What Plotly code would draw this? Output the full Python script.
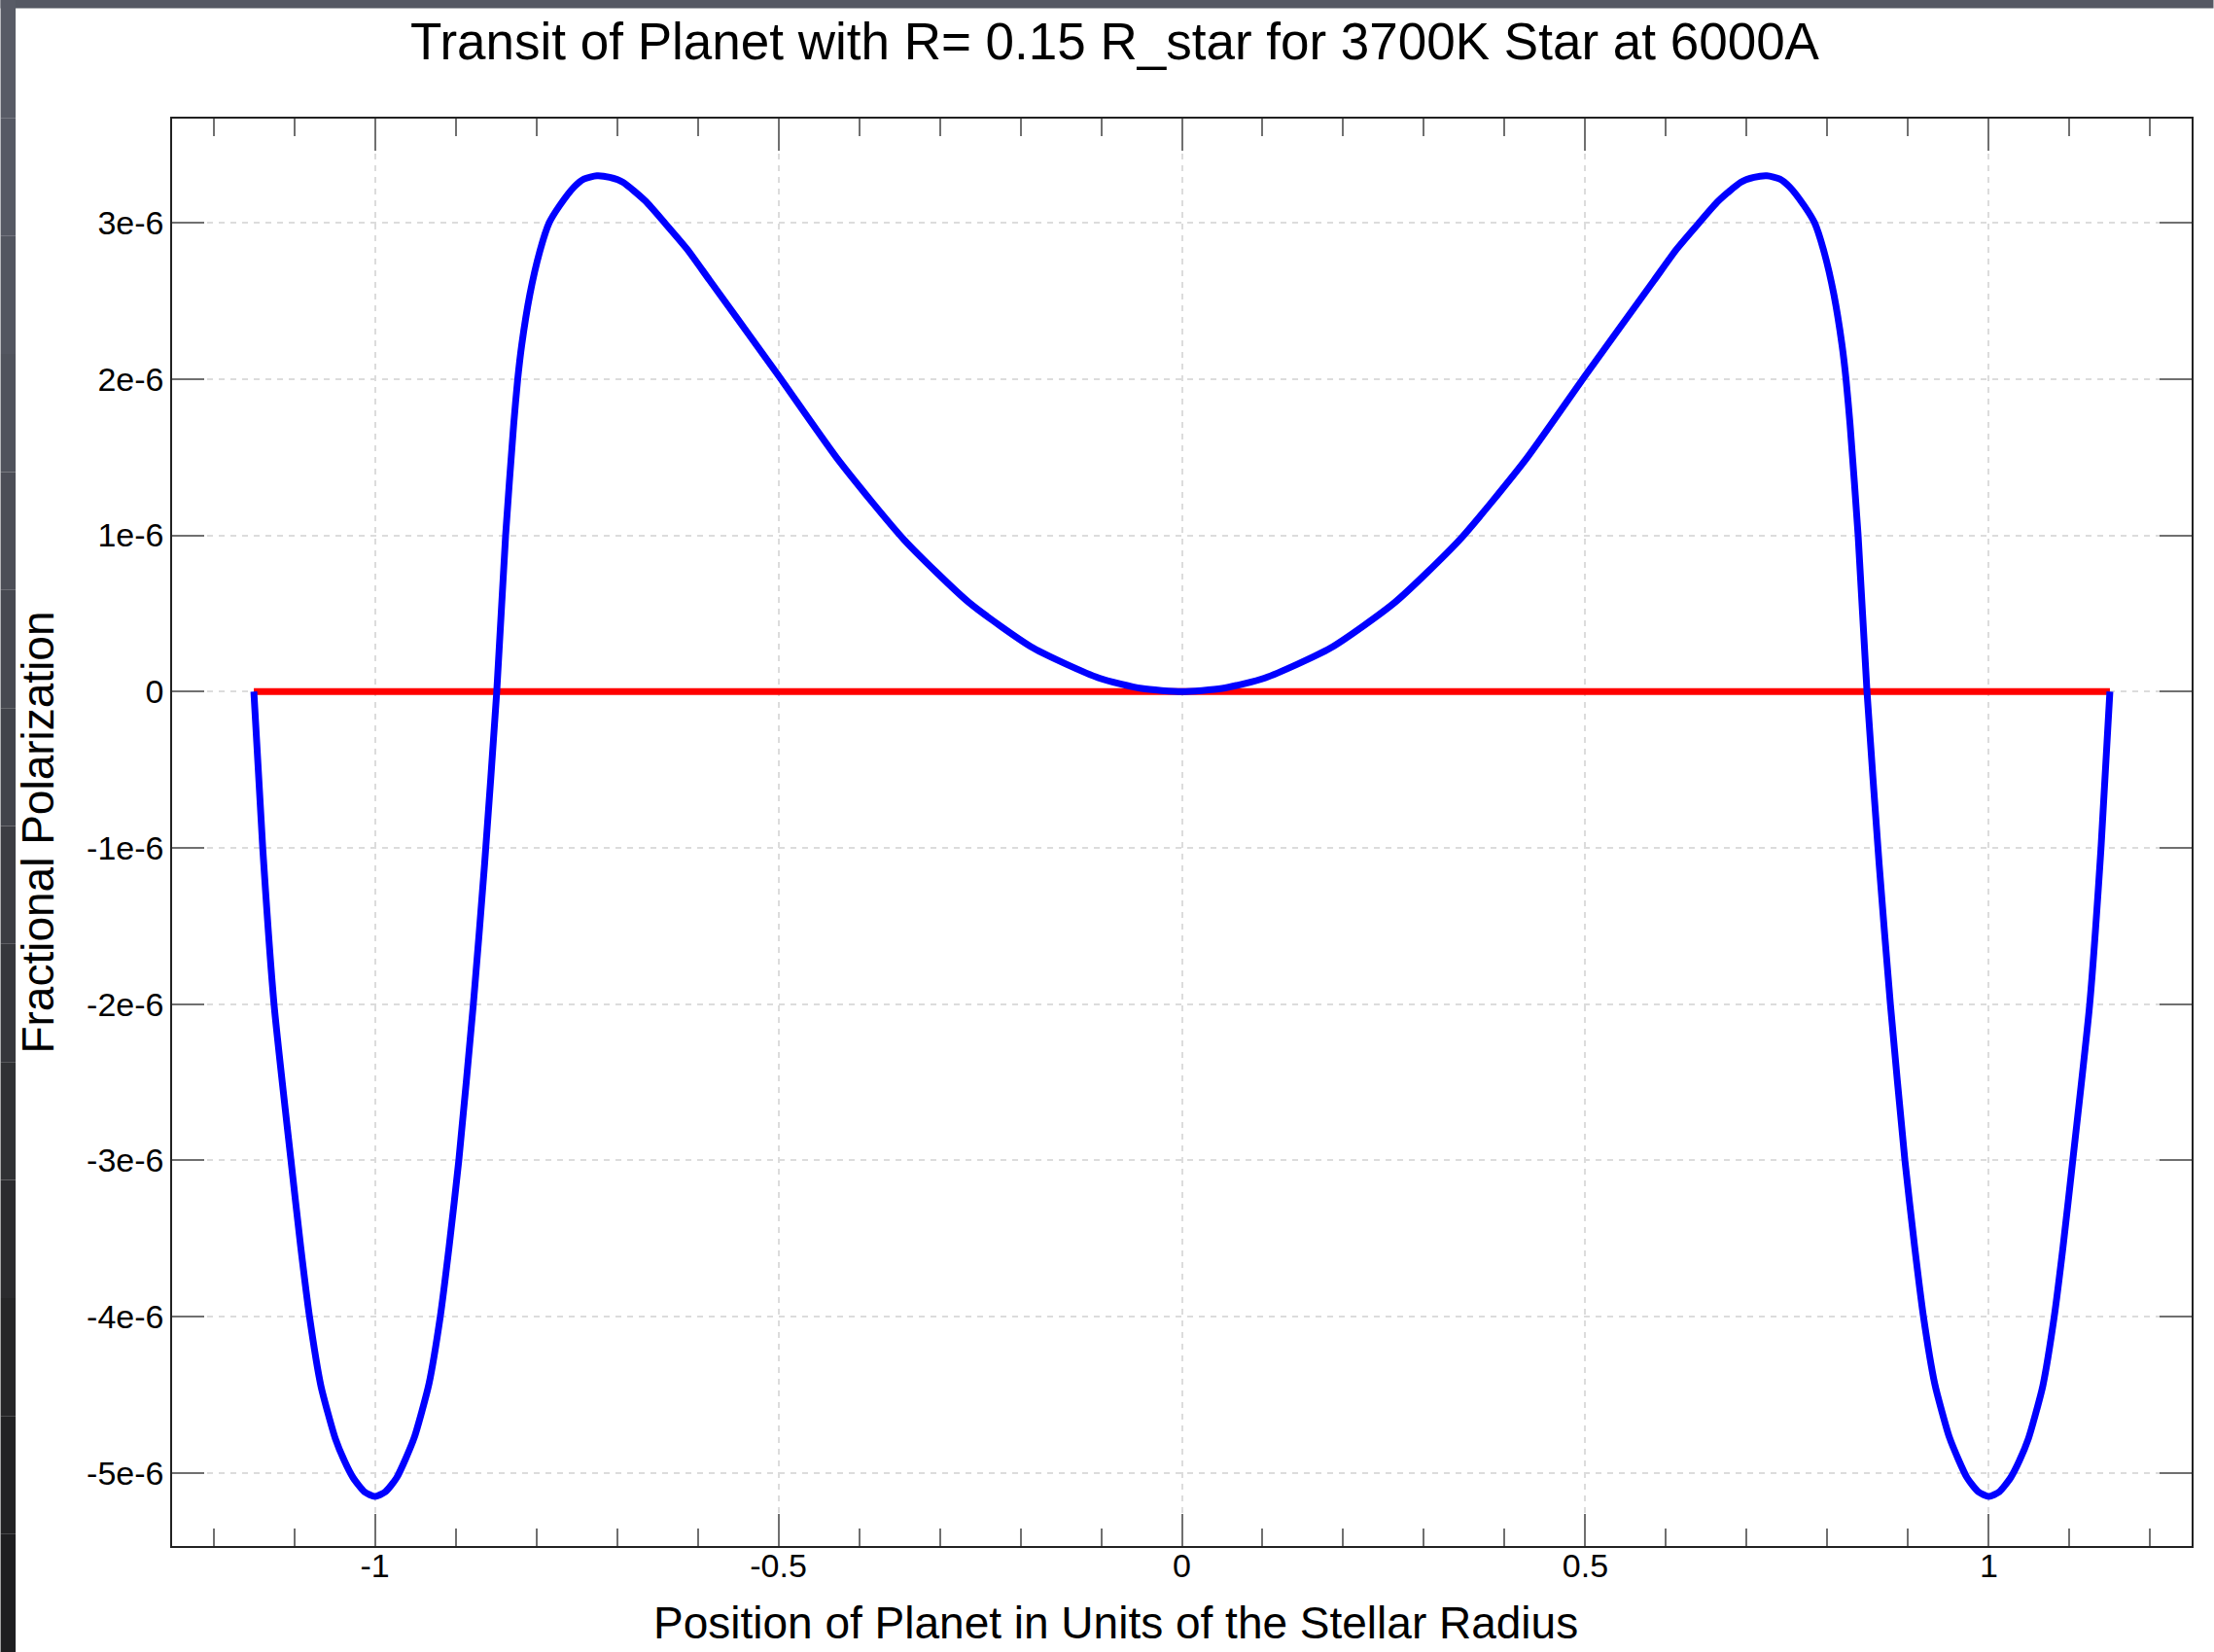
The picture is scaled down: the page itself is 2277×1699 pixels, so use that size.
import plotly.graph_objects as go

# ---- data (x in stellar radii, polarization in units of 1e-6) ----
x_pos = [-1.150, -1.139, -1.125, -1.104, -1.092, -1.081, -1.067, -1.058, -1.049, -1.038,
         -1.027, -1.013, -1.000,
         -0.987, -0.973, -0.962, -0.951, -0.942, -0.933, -0.919, -0.908, -0.896, -0.878,
         -0.864, -0.849, -0.838,
         -0.828, -0.823, -0.818, -0.808, -0.796, -0.784, -0.771, -0.753, -0.741,
         -0.725, -0.709, -0.693, -0.665, -0.641, -0.613, -0.585, -0.501, -0.424, -0.344,
         -0.264, -0.184, -0.103, -0.050, 0.000,
         0.050, 0.103, 0.184, 0.264, 0.344, 0.424, 0.501, 0.585, 0.613, 0.641,
         0.665, 0.693, 0.709, 0.725, 0.741, 0.753, 0.771, 0.784, 0.796, 0.808,
         0.818, 0.823, 0.828, 0.838, 0.849, 0.864, 0.878, 0.896, 0.908, 0.919,
         0.933, 0.942, 0.951, 0.962, 0.973, 0.987, 1.000,
         1.013, 1.027, 1.038, 1.049, 1.058, 1.067, 1.081, 1.092, 1.104, 1.125,
         1.139, 1.150]
pol_micro = [0.00, -1.00, -2.00, -3.00, -3.55, -4.00, -4.44, -4.62, -4.78, -4.92,
             -5.03, -5.12, -5.15,
             -5.12, -5.03, -4.91, -4.77, -4.61, -4.43, -4.00, -3.55, -3.00, -2.00,
             -1.10, 0.00, 1.00,
             1.71, 2.00, 2.22, 2.54, 2.81, 3.00, 3.11, 3.23, 3.28,
             3.30, 3.29, 3.26, 3.14, 3.00, 2.83, 2.63, 2.03, 1.47, 0.97,
             0.571, 0.278, 0.087, 0.02, 0.00,
             0.02, 0.087, 0.278, 0.571, 0.97, 1.47, 2.03, 2.63, 2.83, 3.00,
             3.14, 3.26, 3.29, 3.30, 3.28, 3.23, 3.11, 3.00, 2.81, 2.54,
             2.22, 2.00, 1.71, 1.00, 0.00, -1.10, -2.00, -3.00, -3.55, -4.00,
             -4.43, -4.61, -4.77, -4.91, -5.03, -5.12, -5.15,
             -5.12, -5.03, -4.92, -4.78, -4.62, -4.44, -4.00, -3.55, -3.00, -2.00,
             -1.00, 0.00]
pol = [v * 1e-6 for v in pol_micro]

ref_x = [-1.15, 1.15]
ref_y = [0.0, 0.0]

x_tickvals = [-1, -0.5, 0, 0.5, 1]
x_ticktext = ["-1", "-0.5", "0", "0.5", "1"]
y_tickvals = [3e-6, 2e-6, 1e-6, 0, -1e-6, -2e-6, -3e-6, -4e-6, -5e-6]
y_ticktext = ["3e-6", "2e-6", "1e-6", "0", "-1e-6", "-2e-6", "-3e-6", "-4e-6", "-5e-6"]

title_text = "Transit of Planet with R= 0.15 R_star for 3700K Star at 6000A"
x_title = "Position of Planet in Units of the Stellar Radius"
y_title = "Fractional Polarization"

FONT = "Liberation Sans, Arial, Helvetica, sans-serif"
W, H = 2277, 1699
L, R, T, B = 176.5, 22.5, 122, 109
PW, PH = W - L - R, H - T - B

def px_x(p):
    return (p - L) / PW

def px_y(p):
    return (H - B - p) / PH

fig = go.Figure()
fig.add_trace(go.Scatter(x=ref_x, y=ref_y, mode="lines",
                         line=dict(color="#ff0000", width=7), hoverinfo="skip"))
fig.add_trace(go.Scatter(x=x_pos, y=pol, mode="lines",
                         line=dict(color="#0000ff", width=7, shape="spline", smoothing=0.6),
                         hoverinfo="skip"))

# dark backdrop strips along the top and left edges
shapes = [dict(type="rect", xref="paper", yref="paper", layer="below",
               x0=px_x(0), x1=px_x(W), y0=px_y(8.5), y1=px_y(0),
               line=dict(width=0), fillcolor="#555863")]
left_cols = ["#585b66", "#565964", "#535660", "#50535c", "#4c4e57", "#474951", "#42444b",
             "#3c3d43", "#36373c", "#303134", "#2b2b2e", "#262628", "#222224", "#1e1e20"]
n = len(left_cols)
for i, c in enumerate(left_cols):
    shapes.append(dict(type="rect", xref="paper", yref="paper", layer="below",
                       x0=px_x(0), x1=px_x(15.5),
                       y0=px_y(H * (i + 1) / n), y1=px_y(H * i / n),
                       line=dict(width=0), fillcolor=c))

annotations = [
    dict(text=title_text, xref="paper", yref="paper", x=px_x(1147), y=px_y(42),
         xanchor="center", yanchor="middle", showarrow=False,
         font=dict(family=FONT, size=53, color="black")),
    dict(text=x_title, xref="paper", yref="paper", x=px_x(1147), y=px_y(1669),
         xanchor="center", yanchor="middle", showarrow=False,
         font=dict(family=FONT, size=46, color="black")),
    dict(text=y_title, xref="paper", yref="paper", x=px_x(38), y=0.5, textangle=-90,
         xanchor="center", yanchor="middle", showarrow=False,
         font=dict(family=FONT, size=46, color="black")),
]

axis_common = dict(showline=True, linecolor="#222222", linewidth=1.5, mirror="ticks",
                   ticks="inside", tickcolor="#707070", tickwidth=2, ticklen=33,
                   showgrid=True, gridcolor="#dcdcdc", gridwidth=1.5, griddash="6px,6px",
                   zeroline=False, tickfont=dict(family=FONT, size=34, color="black"))

fig.update_layout(
    width=W, height=H,
    margin=dict(l=L, r=R, t=T, b=B, pad=0),
    paper_bgcolor="white", plot_bgcolor="white",
    showlegend=False,
    shapes=shapes, annotations=annotations,
    xaxis=dict(range=[-1.2513, 1.2513], tickmode="array", tickvals=x_tickvals, ticktext=x_ticktext,
               minor=dict(tickmode="linear", tick0=0, dtick=0.1, ticks="inside", ticklen=18,
                          tickcolor="#707070", tickwidth=2, showgrid=False),
               ticklabelstandoff=-11, **axis_common),
    yaxis=dict(range=[-5.467e-6, 3.666e-6], tickmode="array", tickvals=y_tickvals, ticktext=y_ticktext,
               ticklabelstandoff=0, **axis_common),
)

fig.write_html("out.html")
